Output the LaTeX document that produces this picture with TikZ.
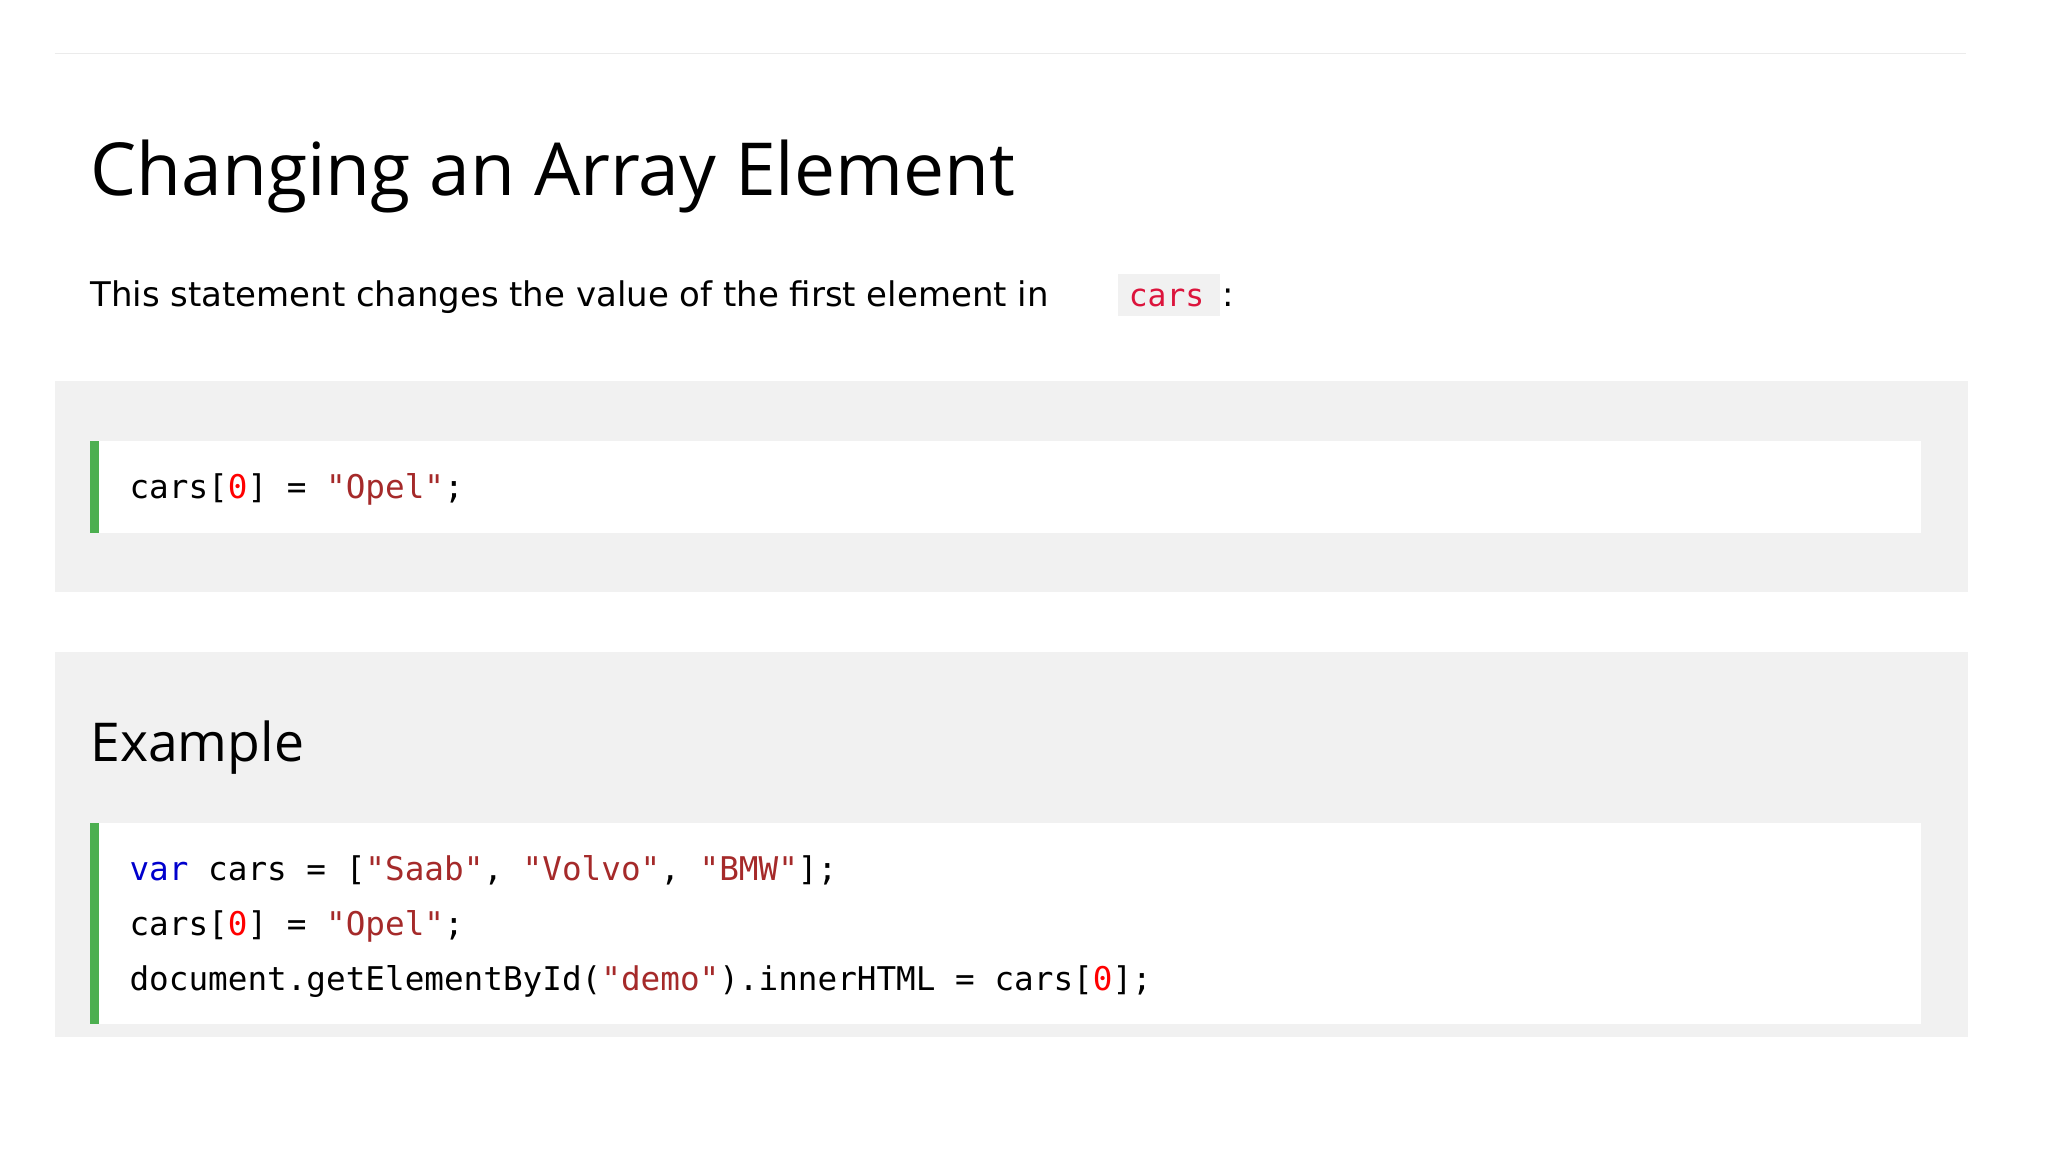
\documentclass[tikz,border=0pt]{standalone}
\usepackage{fontspec}
\setmainfont{Open Sans}
\newfontfamily\codefont{DejaVu Sans Mono}
\newfontfamily\parafont{DejaVu Sans}
\definecolor{panel}{HTML}{F1F1F1}
\definecolor{greenbar}{HTML}{4CAF50}
\definecolor{kw}{HTML}{0000CD}
\definecolor{str}{HTML}{A52A2A}
\definecolor{num}{HTML}{FF0000}
\definecolor{inl}{HTML}{DC143C}
\tikzset{
  code/.style={anchor=base west,inner sep=0pt,font=\codefont\fontsize{25}{28}\selectfont},
  txt/.style={anchor=base west,inner sep=0pt}
}
\begin{document}
\begin{tikzpicture}[x=1pt,y=-1pt]
\useasboundingbox[fill=white] (0,0) rectangle (1568,882);
\draw[color=black!8,line width=1pt] (42,41) -- (1505,41);
\node[txt,font=\fontsize{56}{64}\selectfont] (title) at (69,150) {Changing an Array Element};
\fill[panel] (856,210) rectangle (934,242);
\node[txt,font=\parafont\fontsize{26}{30}\selectfont] (para) at (69,235) {This statement changes the value of the first element in};
\node[code,font=\codefont\fontsize{24}{28}\selectfont,text=inl] (inl) at (864,235) {cars};
\node[txt,font=\parafont\fontsize{26}{30}\selectfont] (colon) at (936,235) {:};
% panel 1
\fill[panel] (42,292) rectangle (1507,453);
\fill[white] (69,338) rectangle (1471,408);
\fill[greenbar] (69,338) rectangle (76,408);
\node[code] (c1) at (99,382) {cars[\textcolor{num}{0}] = \textcolor{str}{"Opel"};};
% panel 2
\fill[panel] (42,499) rectangle (1507,794);
\node[txt,font=\fontsize{41}{48}\selectfont] (ex) at (69,583) {Example};
\fill[white] (69,630) rectangle (1471,784);
\fill[greenbar] (69,630) rectangle (76,784);
\node[code] (l1) at (99,674) {\textcolor{kw}{var} cars = [\textcolor{str}{"Saab"}, \textcolor{str}{"Volvo"}, \textcolor{str}{"BMW"}];};
\node[code] (l2) at (99,716) {cars[\textcolor{num}{0}] = \textcolor{str}{"Opel"};};
\node[code] (l3) at (99,758) {document.getElementById(\textcolor{str}{"demo"}).innerHTML = cars[\textcolor{num}{0}];};
\end{tikzpicture}
\end{document}
